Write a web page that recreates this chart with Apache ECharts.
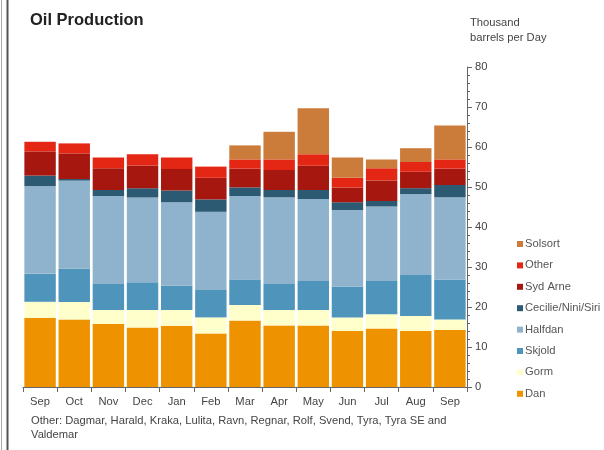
<!DOCTYPE html>
<html>
<head>
<meta charset="utf-8">
<script src="https://cdn.jsdelivr.net/npm/echarts@6/dist/echarts.min.js"></script>
<style>html,body{margin:0;padding:0;background:#fff}#c{width:604px;height:450px}</style>
</head>
<body>
<div id="c"></div>
<script>
const months = ['Sep','Oct','Nov','Dec','Jan','Feb','Mar','Apr','May','Jun','Jul','Aug','Sep'];
const dan     = [17.3, 16.9, 15.75, 14.9, 15.3, 13.4, 16.6, 15.4, 15.4, 14.0, 14.6, 14.0, 14.25];
const gorm    = [4.0, 4.35, 3.5, 4.35, 3.95, 4.0, 3.9, 3.85, 3.85, 3.4, 3.6, 3.75, 2.65];
const skjold  = [7.0, 8.35, 6.5, 6.95, 6.05, 6.85, 6.4, 6.5, 7.25, 7.7, 8.3, 10.25, 10.0];
const halfdan = [21.9, 22.0, 22.0, 21.2, 20.9, 19.55, 20.85, 21.65, 20.5, 19.15, 18.6, 20.2, 20.5];
const cecilie = [2.65, 0.4, 1.5, 2.3, 2.9, 3.1, 2.15, 1.85, 2.25, 1.95, 1.4, 1.5, 3.1];
const sydArne = [6.05, 6.4, 5.45, 5.7, 5.4, 5.4, 4.7, 5.0, 6.05, 3.7, 5.1, 4.1, 4.1];
const other   = [2.4, 2.5, 2.7, 2.8, 2.9, 2.8, 2.3, 2.65, 2.9, 2.4, 3.1, 2.45, 2.3];
const solsort = [0, 0, 0, 0, 0, 0, 3.5, 6.9, 11.5, 5.1, 2.2, 3.45, 8.5];
const yTicks = [0, 10, 20, 30, 40, 50, 60, 70, 80];

const seriesDefs = [
  ['Dan', dan, '#ee9200'],
  ['Gorm', gorm, '#ffffcc'],
  ['Skjold', skjold, '#4f95bb'],
  ['Halfdan', halfdan, '#8fb3cd'],
  ['Cecilie/Nini/Siri', cecilie, '#2c5a73'],
  ['Syd Arne', sydArne, '#a5170f'],
  ['Other', other, '#e42614'],
  ['Solsort', solsort, '#cc7c3a']
];

const font = 'Liberation Sans, Arial, sans-serif';
const fs = 11.2;
const chart = echarts.init(document.getElementById('c'), null, {renderer: 'canvas'});
chart.setOption({
  animation: false,
  backgroundColor: '#fff',
  textStyle: {fontFamily: font},
  title: {
    text: 'Oil Production', left: 25, top: 7,
    textStyle: {fontSize: 16.5, fontWeight: 'bold', color: '#222', fontFamily: font}
  },
  graphic: [
    {type: 'line', shape: {x1: 1.5, y1: 0, x2: 1.5, y2: 450}, style: {stroke: '#aaa', lineWidth: 1}},
    {type: 'line', shape: {x1: 7.5, y1: 0, x2: 7.5, y2: 450}, style: {stroke: '#555', lineWidth: 2}},
    {type: 'text', left: 470, top: 15, style: {text: 'Thousand\nbarrels per Day', fontSize: fs, lineHeight: 15, fill: '#444', fontFamily: font}},
    {type: 'text', left: 31, top: 414, style: {text: 'Other: Dagmar, Harald, Kraka, Lulita, Ravn, Regnar, Rolf, Svend, Tyra, Tyra SE and\nValdemar', fontSize: fs, lineHeight: 14, fill: '#444', fontFamily: font}}
  ],
  legend: {
    orient: 'vertical', left: 512, top: 233,
    data: seriesDefs.map(s => s[0]).reverse(),
    icon: 'rect', itemWidth: 6, itemHeight: 6, itemGap: 9.4,
    textStyle: {fontSize: fs, color: '#555', lineHeight: 12, padding: [0, 0, 0, -3]}
  },
  grid: {left: 23, right: 137, top: 67, bottom: 63},
  xAxis: {
    type: 'category', data: months,
    axisLine: {lineStyle: {color: '#666'}},
    axisTick: {show: true, length: 5, lineStyle: {color: '#666'}},
    axisLabel: {fontSize: fs, color: '#444', margin: 9}
  },
  yAxis: {
    type: 'value', position: 'right', min: yTicks[0], max: yTicks[yTicks.length - 1], interval: 10,
    axisLine: {show: true, lineStyle: {color: '#666'}},
    axisTick: {show: true, length: 5, lineStyle: {color: '#666'}},
    minorTick: {show: true, splitNumber: 5, length: 3, lineStyle: {color: '#666'}},
    splitLine: {show: false},
    axisLabel: {fontSize: fs, color: '#444', margin: 8}
  },
  series: seriesDefs.map(([name, vals, color]) => ({
    name, type: 'bar', stack: 'total', data: vals,
    barCategoryGap: '8%',
    itemStyle: {color},
    emphasis: {disabled: true}
  }))
});
</script>
</body>
</html>
